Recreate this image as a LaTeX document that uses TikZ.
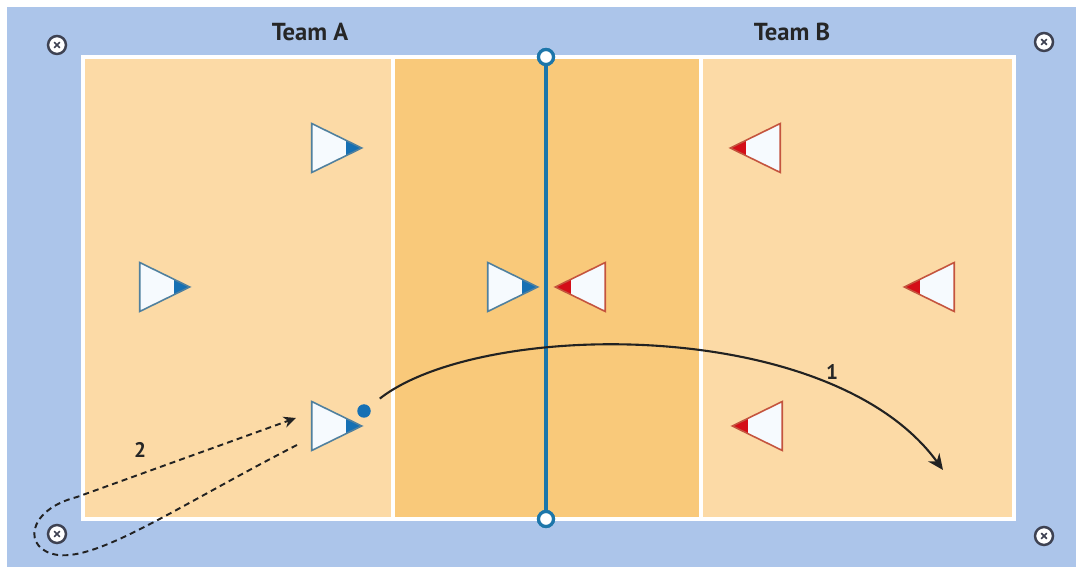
\documentclass[tikz,border=0pt]{standalone}
\usepackage{fontspec}
\setmainfont{PT Sans}
\usepackage{tikz}
\usetikzlibrary{shapes.geometric, positioning, arrows.meta}

\definecolor{courtblue}{RGB}{172,197,234}
\definecolor{courtsand}{RGB}{252,218,166}
\definecolor{zoneorange}{RGB}{249,201,122}
\definecolor{netblue}{RGB}{28,118,170}
\definecolor{teamblue}{RGB}{22,112,180}
\definecolor{teamred}{RGB}{212,14,24}
\definecolor{edgeblue}{RGB}{80,128,158}
\definecolor{edgered}{RGB}{196,84,62}
\definecolor{markgrey}{RGB}{62,66,82}
\definecolor{pathgrey}{RGB}{34,34,34}
\definecolor{shirt}{RGB}{246,250,254}

\tikzset{
  player/.style={isosceles triangle, isosceles triangle apex angle=53,
    isosceles triangle stretches, minimum width=0.98cm, minimum height=1cm,
    inner sep=0pt, fill=shirt, line width=0.9pt},
  teamA/.style={player, draw=edgeblue, shape border rotate=0, xshift=-0.2cm,
    path picture={\fill[teamblue] ([xshift=-0.32cm]path picture bounding box.north east)
      rectangle (path picture bounding box.south east);}},
  teamB/.style={player, draw=edgered, shape border rotate=180, xshift=0.2cm,
    path picture={\fill[teamred] (path picture bounding box.north west)
      rectangle ([xshift=0.32cm]path picture bounding box.south west);}},
  marker/.style={circle, draw=markgrey, line width=1.4pt, fill=white,
    minimum size=0.36cm, inner sep=0pt,
    path picture={\draw[markgrey, line width=1pt]
      ([shift={(-1.6pt,-1.6pt)}]path picture bounding box.center) --
      ([shift={(1.6pt,1.6pt)}]path picture bounding box.center)
      ([shift={(-1.6pt,1.6pt)}]path picture bounding box.center) --
      ([shift={(1.6pt,-1.6pt)}]path picture bounding box.center);}},
  post/.style={circle, draw=netblue, line width=1.8pt, fill=white,
    minimum size=0.3cm, inner sep=0pt},
  courtline/.style={white, line width=1.8pt},
  team/.style={font=\bfseries\fontsize{14}{16}\selectfont, text=black!85},
  lbl/.style={font=\bfseries\fontsize{12}{14}\selectfont, text=black!85},
  ballpath/.style={pathgrey, line width=1.2pt, -{Stealth[length=9pt, width=8pt]}},
  runpath/.style={pathgrey, line width=1.1pt, dash pattern=on 3.4pt off 2.4pt,
    -{Stealth[length=7pt, width=6.5pt]}}
}

\begin{document}
\begin{tikzpicture}[x=0.02cm, y=-0.02cm]
  \useasboundingbox (0,0) rectangle (1076,567);
  % surround and court
  \fill[white] (0,0) rectangle (1076,567);
  \fill[courtblue] (7,7) rectangle (1076,567);
  \fill[courtsand] (83,57) rectangle (1014,519);
  \fill[zoneorange] (393,57) rectangle (701,519);
  \draw[courtline] (83,57) rectangle (1014,519);
  \draw[courtline] (393,57) -- (393,519) (701,57) -- (701,519);

  % net
  \node[post] (nettop) at (546,57) {};
  \node[post] (netbot) at (546,519) {};
  \draw[netblue, line width=2.8pt] (nettop) -- (netbot);
  \node[post] at (nettop) {};
  \node[post] at (netbot) {};

  % corner markers
  \node[marker] (m1) at (57,45) {};
  \node[marker] (m2) at (1044,42) {};
  \node[marker] (m3) at (57,534) {};
  \node[marker] (m4) at (1044,536) {};

  % team names
  \node[team] (teamA) at (310,32) {Team A};
  \node[team] (teamB) at (792,32) {Team B};

  % players
  \node[teamA] (a1) at (337,148) {};
  \node[teamA] (a2) at (165,287) {};
  \node[teamA] (a3) at (513,287) {};
  \node[teamA] (a4) at (337,426) {};
  \node[teamB] (b1) at (755,148) {};
  \node[teamB] (b2) at (929,287) {};
  \node[teamB] (b3) at (580,287) {};
  \node[teamB] (b4) at (757,426) {};

  % ball and serve
  \node[circle, fill=teamblue, minimum size=0.27cm, inner sep=0pt] (ball) at (364,411) {};
  \coordinate (land) at (943,470);
  \draw[ballpath, shorten <=0.26cm] (ball) .. controls (480,320) and (830,315) .. (land);
  \node[lbl] (l1) at (832,372) {1};

  % server run
  \coordinate (run0) at (297,445);
  \coordinate (run1) at (296,418);
  \draw[runpath] (run0) .. controls (180,505) and (100,560) .. (58,555)
    .. controls (22,550) and (26,510) .. (77,497) -- (run1);
  \node[lbl] (l2) at (140,450) {2};
\end{tikzpicture}
\end{document}
